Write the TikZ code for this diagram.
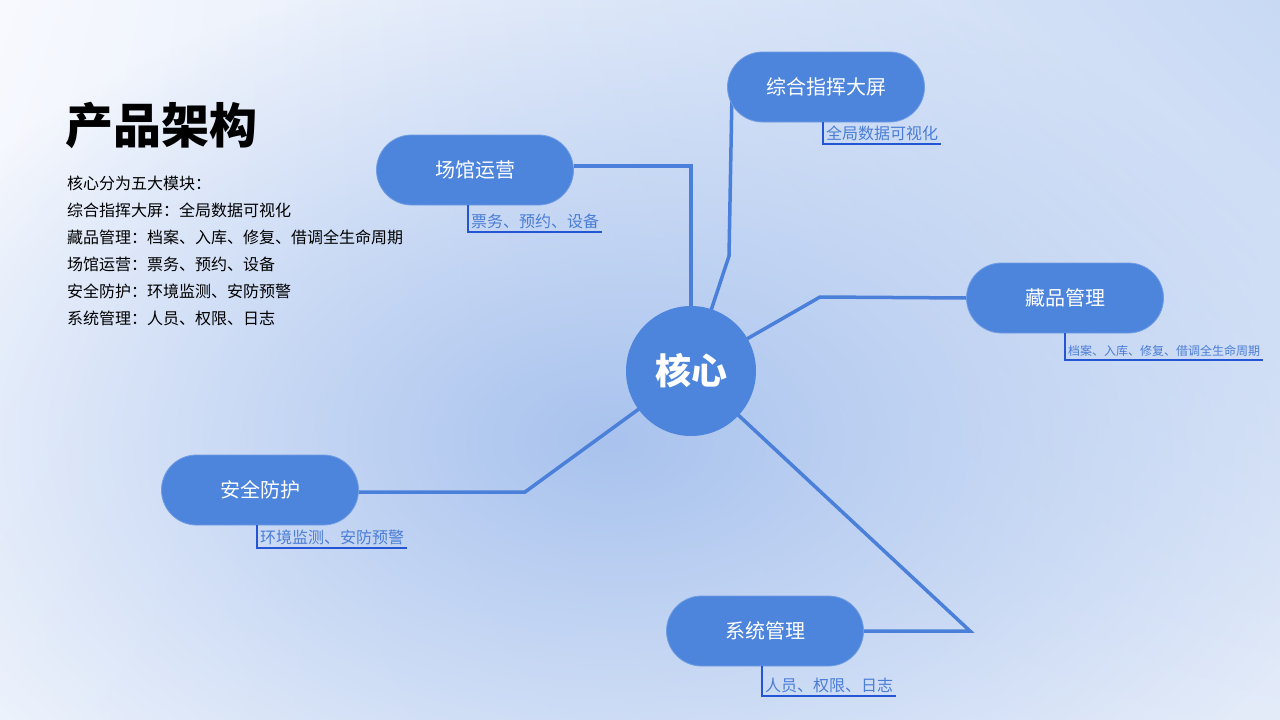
\documentclass[tikz,border=0pt]{standalone}
\usepackage{fontspec}
\setmainfont{Noto Sans CJK SC}
\usetikzlibrary{positioning,backgrounds,fadings,shadings}

\definecolor{pillblue}{HTML}{4D84DC}
\definecolor{linkblue}{HTML}{4A80D9}
\definecolor{subblue}{HTML}{4A7DD6}
\definecolor{rulerblue}{HTML}{2456D3}
\definecolor{glowblue}{HTML}{A9C3EE}
\definecolor{bgTL}{HTML}{F7F9FE}
\definecolor{bgTR}{HTML}{C8D9F4}
\definecolor{bgBL}{HTML}{EEF3FC}
\definecolor{bgBR}{HTML}{E3EBF9}

\tikzfading[name=glow, inner color=transparent!0, outer color=transparent!100]

\tikzset{
	module/.style={rectangle, rounded corners=35pt, minimum width=197pt, minimum height=70pt,
		fill=pillblue, draw=pillblue!80!white, line width=0.8pt, text=white,
		font=\fontsize{20}{20}\selectfont},
	hub/.style={circle, minimum size=130pt, inner sep=0pt, fill=pillblue, text=white,
		font=\bfseries\fontsize{36}{36}\selectfont},
	link/.style={linkblue, line width=3.5pt},
	detail/.style={inner sep=3pt, text=subblue, font=\fontsize{16}{16}\selectfont},
	bracket/.style={rulerblue, line width=1.8pt},
}

\begin{document}
\begin{tikzpicture}[x=1pt,y=-1pt]

\useasboundingbox (0,0) rectangle (1280,720);

% The title and the intro
\node[anchor=base west, inner sep=0pt, font=\bfseries\fontsize{48}{48}\selectfont] (title) at (65,143) {产品架构};
\node[anchor=north west, align=left, inner sep=0pt, font=\fontsize{16}{27}\selectfont] (intro) at (67,176)
	{核心分为五大模块：\\综合指挥大屏：全局数据可视化\\藏品管理：档案、入库、修复、借调全生命周期\\场馆运营：票务、预约、设备\\安全防护：环境监测、安防预警\\系统管理：人员、权限、日志};

% The modules
\node[hub] (core) at (691,371) {核心};
\node[module] (screen) at (826,87) {综合指挥大屏};
\node[module] (venue) at (475,170) {场馆运营};
\node[module] (collection) at (1065,298) {藏品管理};
\node[module] (security) at (260,490) {安全防护};
\node[module] (system) at (765,631) {系统管理};

% The details
\node[detail, below right=0pt and -3pt of screen.south] (screen-sub) {全局数据可视化};
\node[detail, below right=5pt and -7pt of venue.south] (venue-sub) {票务、预约、设备};
\node[detail, below right=9pt and 0pt of collection.south, font=\fontsize{12}{12}\selectfont] (collection-sub) {档案、入库、修复、借调全生命周期};
\node[detail, below right=1pt and -3pt of security.south] (security-sub) {环境监测、安防预警};
\node[detail, below right=8pt and -3pt of system.south] (system-sub) {人员、权限、日志};

\draw[bracket] (screen.south -| screen-sub.west) |- (screen-sub.south east);
\draw[bracket] (venue.south -| venue-sub.west) |- (venue-sub.south east);
\draw[bracket] (collection.south -| collection-sub.west) |- (collection-sub.south east);
\draw[bracket] (security.south -| security-sub.west) |- (security-sub.south east);
\draw[bracket] (system.south -| system-sub.west) |- (system-sub.south east);

% The bends
\coordinate (screen-bend) at (729,256);
\coordinate (collection-bend) at (820,297);
\coordinate (security-bend) at (525,492);
\coordinate (system-bend) at (970,631);

\begin{scope}[on background layer]
	\shade[upper left=bgTL, upper right=bgTR, lower left=bgBL, lower right=bgBR] (0,0) rectangle (1280,720);
	\fill[glowblue, path fading=glow] (610,440) ellipse (760pt and 480pt);

	% The links
	\draw[link] (core.center) |- ([yshift=4pt]venue.east);
	\draw[link] (core.center) -- (screen-bend) -- ([xshift=5pt]screen.west);
	\draw[link] (core.center) -- (collection-bend) -- (collection.west);
	\draw[link] (core.center) -- (security-bend) -- ([yshift=-2pt]security.east);
	\draw[link] (core.center) -- (system-bend) -- (system.east);
\end{scope}

\end{tikzpicture}
\end{document}
